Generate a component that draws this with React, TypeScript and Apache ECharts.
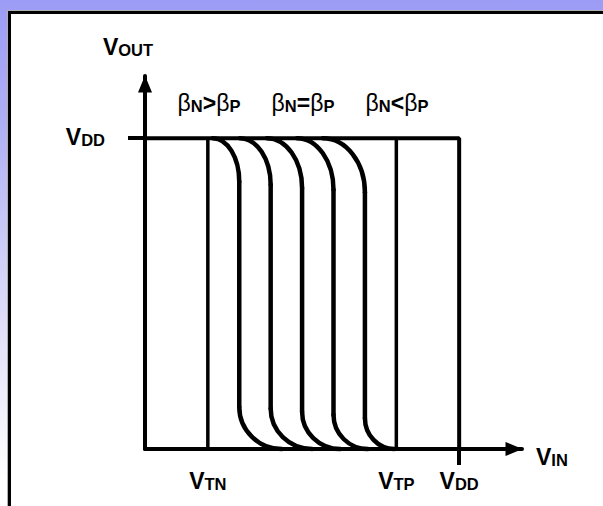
import React, { useEffect, useRef } from 'react';
import * as echarts from 'echarts';

// Supply and threshold voltages (arbitrary units, VDD = 5)
const VDD = 5;
const VTN = 1;
const VTP = 4;
const AXIS_END = 6;

// Marked voltages on the input axis and their subscripts
const xMarks = [VTN, VTP, VDD];
const xMarkSubs = ['TN', 'TP', 'DD'];

// Transfer curves, one entry per beta ratio (left: βN>βP ... right: βN<βP)
const leaveVdd = [1.08, 1.51, 1.94, 2.42, 2.83]; // VIN where VOUT starts to drop from VDD
const switchVin = [1.5, 2.0, 2.5, 3.0, 3.5]; // VIN of the steep switching edge
const upperKnee = [4.3, 4.25, 4.2, 4.17, 4.13]; // VOUT where the edge becomes vertical
const lowerKnee = [0.68, 0.65, 0.6, 0.55, 0.5]; // VOUT where the edge starts to flatten
const reachGnd = [2.18, 2.66, 3.11, 3.55, 3.97]; // VIN where VOUT reaches 0

// Beta-ratio captions
const ratioCaptions = ['{b|β}{s|N}{o|>}{b|β}{s|P}', '{b|β}{s|N}{o|=}{b|β}{s|P}', '{b|β}{s|N}{o|<}{b|β}{s|P}'];

const FONT = '"Liberation Sans", Arial, Helvetica, sans-serif';

const rich = {
  v: { fontFamily: FONT, fontSize: 23, fontWeight: 'bold', color: '#000', verticalAlign: 'bottom', lineHeight: 26 },
  s: { fontFamily: FONT, fontSize: 16.5, fontWeight: 'bold', color: '#000', verticalAlign: 'bottom', lineHeight: 26 },
  b: { fontFamily: FONT, fontSize: 23, fontWeight: 'normal', color: '#000', verticalAlign: 'bottom', lineHeight: 26 },
  o: { fontFamily: FONT, fontSize: 23, fontWeight: 'bold', color: '#000', verticalAlign: 'bottom', lineHeight: 26 },
};

const curveRows = switchVin.map((x, i) => [leaveVdd[i], x, upperKnee[i], lowerKnee[i], reachGnd[i]]);

export default function App() {
  const ref = useRef<HTMLDivElement>(null);

  useEffect(() => {
    if (!ref.current) return;
    const chart = echarts.init(ref.current, null, { renderer: 'svg' });
    const black = '#000';
    const K = 0.5523;

    const option: any = {
      animation: false,
      grid: { left: 145, right: 81, top: 76, bottom: 57, containLabel: false, outerBoundsMode: 'none' },
      xAxis: {
        type: 'value',
        min: 0,
        max: AXIS_END,
        interval: 1,
        name: '{v|V}{s|IN}',
        nameLocation: 'end',
        nameGap: 14,
        nameTextStyle: { rich, padding: [12, 0, 0, 0] },
        axisLine: {
          show: true,
          onZero: false,
          symbol: ['none', 'triangle'],
          symbolSize: [14, 17],
          symbolOffset: [0, -8],
          lineStyle: { color: black, width: 4 },
        },
        axisTick: { show: true, customValues: [VDD], length: 16, lineStyle: { color: black, width: 4 } },
        axisLabel: {
          customValues: xMarks,
          margin: 17,
          rich,
          formatter: (v: number) => {
            const i = xMarks.indexOf(v);
            return i < 0 ? '' : `{v|V}{s|${xMarkSubs[i]}}`;
          },
        },
        splitLine: { show: false },
      },
      yAxis: {
        type: 'value',
        min: 0,
        max: AXIS_END,
        interval: 1,
        name: '{v|V}{s|OUT}',
        nameLocation: 'end',
        nameGap: 18,
        nameTextStyle: { rich, padding: [0, 34, 0, 0] },
        axisLine: {
          show: true,
          onZero: false,
          symbol: ['none', 'triangle'],
          symbolSize: [14, 17],
          symbolOffset: [0, -8],
          lineStyle: { color: black, width: 4 },
        },
        axisTick: { show: true, customValues: [VDD], length: 17, lineStyle: { color: black, width: 4 } },
        axisLabel: {
          customValues: [VDD],
          margin: 40,
          rich,
          padding: [0, 0, 5, 0],
          formatter: (v: number) => (v === VDD ? '{v|V}{s|DD}' : ''),
        },
        splitLine: { show: false },
      },
      graphic: ratioCaptions.map((t, i) => ({
        type: 'text',
        x: [209, 303, 397][i],
        y: 101,
        style: { text: t, rich, align: 'center', verticalAlign: 'middle' },
      })),
      series: [
        {
          // VDD rail and the VIN = VDD edge
          type: 'line',
          data: [[0, VDD], [VDD, VDD], [VDD, 0]],
          symbol: 'none',
          silent: true,
          lineStyle: { color: black, width: 4 },
        },
        {
          type: 'line',
          data: [[VTN, 0], [VTN, VDD]],
          symbol: 'none',
          silent: true,
          lineStyle: { color: black, width: 3.5 },
        },
        {
          type: 'line',
          data: [[VTP, 0], [VTP, VDD]],
          symbol: 'none',
          silent: true,
          lineStyle: { color: black, width: 3.5 },
        },
        {
          type: 'custom',
          silent: true,
          data: curveRows,
          encode: { x: [0, 1, 4], y: [2, 3] },
          renderItem: (_params: any, api: any) => {
            const p0 = api.coord([api.value(0), VDD]);
            const p1 = api.coord([api.value(1), api.value(2)]);
            const p2 = api.coord([api.value(1), api.value(3)]);
            const p3 = api.coord([api.value(4), 0]);
            const style = { stroke: black, lineWidth: 4.5, fill: null, lineCap: 'round' };
            return {
              type: 'group',
              children: [
                {
                  type: 'bezierCurve',
                  shape: {
                    x1: p0[0], y1: p0[1],
                    cpx1: p0[0] + K * (p1[0] - p0[0]), cpy1: p0[1],
                    cpx2: p1[0], cpy2: p1[1] - K * (p1[1] - p0[1]),
                    x2: p1[0], y2: p1[1],
                  },
                  style,
                },
                { type: 'line', shape: { x1: p1[0], y1: p1[1], x2: p2[0], y2: p2[1] }, style },
                {
                  type: 'bezierCurve',
                  shape: {
                    x1: p2[0], y1: p2[1],
                    cpx1: p2[0], cpy1: p2[1] + K * (p3[1] - p2[1]),
                    cpx2: p3[0] - K * (p3[0] - p2[0]), cpy2: p3[1],
                    x2: p3[0], y2: p3[1],
                  },
                  style,
                },
              ],
            };
          },
        },
      ],
    };

    chart.setOption(option);
    return () => chart.dispose();
  }, []);

  return (
    <div
      style={{
        position: 'fixed',
        left: 0,
        top: 0,
        width: 603,
        height: 506,
        overflow: 'hidden',
        background: 'linear-gradient(to bottom, #9c9cf6 0%, #b0b0f6 25%, #d4d4f8 55%, #f0f0fc 80%, #ffffff 95%)',
      }}
    >
      <div
        style={{
          position: 'absolute',
          left: 8,
          top: 11,
          width: 640,
          height: 540,
          background: '#fff',
          border: '3px solid #000',
          boxShadow: '-1px -1px 0 #b0b0b0',
        }}
      />
      <div ref={ref} style={{ position: 'absolute', left: 0, top: 0, width: 603, height: 506 }} />
    </div>
  );
}
